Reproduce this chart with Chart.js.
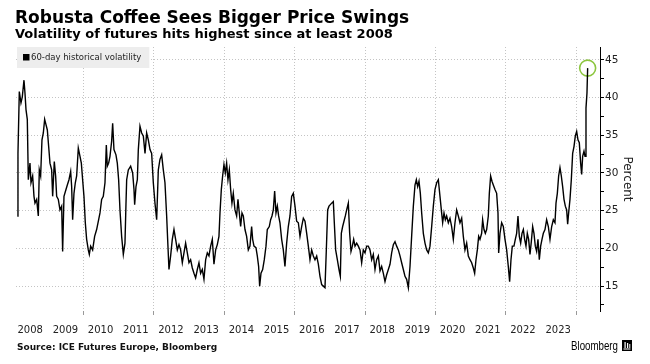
<!DOCTYPE html>
<html>
<head>
<meta charset="utf-8">
<script src="https://cdn.jsdelivr.net/npm/chart.js@4.4.0/dist/chart.umd.min.js"></script>
<style>
  body { margin: 0; background: #fff; }
  canvas { display: block; }
</style>
</head>
<body>
<canvas id="myChart" width="650" height="364"></canvas>
<script>
// decimal years
const dates = [
  2008.134, 2008.153, 2008.191, 2008.238, 2008.276, 2008.324, 2008.352, 2008.381, 2008.418, 2008.447,
  2008.494, 2008.523, 2008.570, 2008.608, 2008.636, 2008.684, 2008.731, 2008.759, 2008.797, 2008.835,
  2008.873, 2008.911, 2008.949, 2008.987, 2009.025, 2009.062, 2009.110, 2009.138, 2009.185, 2009.223,
  2009.252, 2009.299, 2009.346, 2009.394, 2009.422, 2009.460, 2009.517, 2009.555, 2009.602, 2009.650,
  2009.678, 2009.706, 2009.744, 2009.782, 2009.820, 2009.867, 2009.915, 2009.953, 2009.990, 2010.028,
  2010.066, 2010.104, 2010.151, 2010.180, 2010.218, 2010.274, 2010.331, 2010.388, 2010.445, 2010.483,
  2010.530, 2010.577, 2010.625, 2010.663, 2010.691, 2010.729, 2010.767, 2010.814, 2010.843, 2010.880,
  2010.937, 2010.975, 2011.013, 2011.051, 2011.098, 2011.146, 2011.193, 2011.222, 2011.241, 2011.288,
  2011.354, 2011.411, 2011.449, 2011.468, 2011.506, 2011.544, 2011.572, 2011.619, 2011.667, 2011.714,
  2011.762, 2011.809, 2011.856, 2011.904, 2011.951, 2011.998, 2012.045, 2012.093, 2012.140, 2012.187,
  2012.235, 2012.282, 2012.329, 2012.377, 2012.405, 2012.443, 2012.490, 2012.537, 2012.585, 2012.632,
  2012.680, 2012.727, 2012.774, 2012.822, 2012.869, 2012.916, 2012.964, 2013.011, 2013.058, 2013.106,
  2013.153, 2013.200, 2013.248, 2013.295, 2013.342, 2013.390, 2013.437, 2013.485, 2013.532, 2013.579,
  2013.627, 2013.674, 2013.721, 2013.769, 2013.816, 2013.863, 2013.892, 2013.930, 2013.967, 2014.005,
  2014.043, 2014.081, 2014.119, 2014.157, 2014.195, 2014.232, 2014.270, 2014.318, 2014.365, 2014.403,
  2014.441, 2014.479, 2014.517, 2014.555, 2014.602, 2014.649, 2014.697, 2014.744, 2014.791, 2014.820,
  2014.858, 2014.914, 2014.952, 2014.990, 2015.019, 2015.057, 2015.104, 2015.151, 2015.199, 2015.236,
  2015.293, 2015.331, 2015.369, 2015.407, 2015.445, 2015.483, 2015.521, 2015.558, 2015.596, 2015.644,
  2015.691, 2015.738, 2015.786, 2015.833, 2015.880, 2015.928, 2015.975, 2016.023, 2016.070, 2016.118,
  2016.165, 2016.212, 2016.260, 2016.307, 2016.355, 2016.402, 2016.449, 2016.497, 2016.544, 2016.591,
  2016.639, 2016.686, 2016.733, 2016.781, 2016.828, 2016.875, 2016.913, 2016.951, 2016.989, 2017.027,
  2017.065, 2017.112, 2017.140, 2017.178, 2017.226, 2017.273, 2017.311, 2017.339, 2017.377, 2017.415,
  2017.453, 2017.491, 2017.538, 2017.576, 2017.614, 2017.652, 2017.690, 2017.728, 2017.775, 2017.822,
  2017.870, 2017.917, 2017.964, 2018.012, 2018.059, 2018.106, 2018.154, 2018.201, 2018.248, 2018.296,
  2018.343, 2018.391, 2018.438, 2018.485, 2018.533, 2018.580, 2018.627, 2018.675, 2018.722, 2018.769,
  2018.817, 2018.864, 2018.911, 2018.959, 2019.006, 2019.053, 2019.101, 2019.148, 2019.195, 2019.243,
  2019.290, 2019.337, 2019.385, 2019.432, 2019.470, 2019.508, 2019.546, 2019.584, 2019.622, 2019.669,
  2019.716, 2019.764, 2019.811, 2019.858, 2019.906, 2019.953, 2020.000, 2020.048, 2020.095, 2020.142,
  2020.189, 2020.218, 2020.256, 2020.294, 2020.331, 2020.379, 2020.426, 2020.473, 2020.521, 2020.568,
  2020.615, 2020.663, 2020.710, 2020.758, 2020.805, 2020.852, 2020.900, 2020.947, 2020.994, 2021.042,
  2021.089, 2021.127, 2021.165, 2021.203, 2021.241, 2021.278, 2021.326, 2021.354, 2021.392, 2021.430,
  2021.468, 2021.515, 2021.544, 2021.581, 2021.619, 2021.657, 2021.705, 2021.752, 2021.790, 2021.809,
  2021.847, 2021.894, 2021.941, 2021.989, 2022.036, 2022.083, 2022.121, 2022.159, 2022.197, 2022.244,
  2022.282, 2022.320, 2022.358, 2022.396, 2022.434, 2022.472, 2022.510, 2022.547, 2022.585, 2022.623,
  2022.661, 2022.699, 2022.737, 2022.775, 2022.812, 2022.850, 2022.888, 2022.926, 2022.964, 2023.002,
  2023.040, 2023.078, 2023.125, 2023.172, 2023.220, 2023.267, 2023.315, 2023.362, 2023.409, 2023.438,
  2023.476, 2023.513, 2023.551, 2023.589, 2023.627, 2023.665, 2023.703, 2023.741, 2023.769, 2023.797,
  2023.835, 2023.873, 2023.911, 2023.949, 2023.987, 2024.025, 2024.062, 2024.100, 2024.138, 2024.167,
  2024.195, 2024.233, 2024.262, 2024.290, 2024.318, 2024.337
];

// 60-day historical volatility, percent
const vols = [
  24.3, 32.6, 40.8, 39.3, 40.1, 42.3, 40.6, 38.4, 37.1, 29.1,
  31.3, 28.7, 29.6, 26.9, 26.0, 26.5, 24.3, 30.4, 29.6, 34.4,
  35.3, 37.1, 36.4, 35.7, 33.5, 31.3, 30.4, 26.9, 31.5, 29.6,
  26.9, 26.5, 25.1, 25.6, 19.6, 26.9, 27.8, 28.4, 29.1, 30.2,
  28.2, 23.8, 27.3, 28.7, 29.6, 33.3, 32.2, 31.3, 29.1, 26.9,
  23.4, 21.2, 19.8, 19.2, 20.3, 19.8, 21.6, 22.5, 23.8, 24.7,
  26.5, 26.9, 28.7, 33.7, 30.9, 31.3, 32.2, 34.2, 36.6, 33.1,
  32.4, 31.3, 29.1, 25.1, 21.6, 19.2, 20.7, 26.0, 29.1, 30.4,
  30.9, 30.0, 27.8, 25.8, 28.2, 29.1, 33.1, 36.2, 35.3, 34.9,
  32.6, 35.3, 34.4, 33.1, 32.6, 28.7, 26.0, 23.8, 30.4, 31.8,
  32.4, 30.4, 28.7, 24.3, 21.2, 17.2, 19.0, 21.2, 22.5, 21.2,
  19.8, 20.5, 19.8, 18.1, 19.4, 20.7, 19.4, 18.1, 18.5, 17.4,
  16.7, 16.1, 17.2, 18.1, 16.7, 17.2, 15.9, 18.5, 19.4, 19.0,
  20.3, 21.2, 17.9, 19.8, 20.5, 21.6, 24.7, 27.8, 29.6, 31.1,
  30.0, 31.3, 29.1, 30.4, 27.8, 26.0, 27.3, 25.1, 24.3, 26.5,
  24.7, 22.9, 24.7, 24.3, 22.5, 21.6, 19.8, 20.3, 22.9, 21.2,
  20.3, 20.1, 19.0, 17.6, 15.0, 16.7, 17.2, 18.5, 20.3, 22.5,
  22.9, 23.8, 24.3, 25.1, 27.6, 24.7, 25.6, 24.3, 23.4, 21.2,
  19.8, 17.6, 20.7, 22.9, 24.3, 26.9, 27.3, 25.6, 23.6, 23.4,
  21.6, 22.9, 24.0, 23.6, 22.0, 20.3, 18.5, 19.8, 19.0, 18.5,
  19.0, 17.9, 16.3, 15.2, 15.0, 14.8, 19.8, 25.1, 25.6, 25.8,
  26.0, 26.2, 23.4, 19.8, 18.5, 17.2, 16.3, 22.0, 22.9, 23.6,
  24.3, 25.1, 26.0, 22.0, 19.6, 20.3, 21.2, 20.3, 20.7, 20.3,
  19.8, 18.1, 19.8, 19.4, 20.3, 20.3, 19.8, 18.5, 19.2, 17.2,
  18.5, 19.0, 17.0, 17.6, 16.7, 15.6, 16.5, 17.2, 17.9, 19.4,
  20.5, 20.9, 20.3, 19.8, 19.0, 18.1, 17.2, 16.3, 15.9, 14.8,
  17.6, 21.6, 25.6, 28.4, 29.1, 28.2, 28.9, 27.3, 24.7, 22.0,
  20.7, 19.8, 19.4, 20.3, 22.9, 25.6, 27.8, 28.7, 29.1, 26.9,
  24.7, 23.4, 24.7, 23.8, 24.3, 23.4, 24.0, 22.9, 21.2, 23.4,
  25.1, 24.3, 23.4, 24.0, 21.6, 19.8, 20.7, 19.0, 18.5, 18.1,
  17.4, 16.7, 18.5, 19.8, 21.6, 21.2, 22.0, 23.8, 22.5, 22.0,
  22.5, 24.3, 27.3, 29.6, 28.9, 28.4, 27.8, 27.3, 24.7, 19.4,
  22.0, 23.4, 22.9, 21.2, 19.8, 17.6, 15.6, 18.5, 20.3, 20.3,
  21.2, 22.0, 24.3, 21.6, 20.7, 22.0, 22.5, 21.2, 20.3, 22.0,
  21.2, 19.2, 20.9, 22.9, 22.0, 20.3, 19.6, 21.2, 18.5, 20.3,
  21.2, 22.0, 22.5, 23.8, 22.9, 21.2, 22.9, 23.8, 23.4, 26.0,
  27.3, 29.6, 30.7, 29.6, 28.2, 26.5, 25.6, 25.1, 23.2, 24.7,
  26.5, 29.1, 32.6, 33.5, 34.9, 35.5, 34.4, 34.0, 31.3, 29.8,
  32.2, 32.9, 32.2, 38.6, 40.6, 43.9
];

const years = ['2008', '2009', '2010', '2011', '2012', '2013', '2014', '2015',
  '2016', '2017', '2018', '2019', '2020', '2021', '2022', '2023'];
const gridYears = [2010, 2012, 2014, 2016, 2018, 2020, 2022, 2024];
const yTicks = [15, 20, 25, 30, 35, 40, 45];
const yMinorTicks = [12.5, 17.5, 22.5, 27.5, 32.5, 37.5, 42.5];

const points = dates.map((d, i) => ({ x: d, y: vols[i] }));
const last = points[points.length - 1];

const gridGrey = '#c4c4c4';

// dotted year lines every two years, placed with the x scale
const yearGrid = {
    id: 'yearGrid',
    beforeDatasetsDraw(chart) {
        const { ctx, chartArea, scales } = chart;
        ctx.save();
        ctx.lineWidth = 1;
        gridYears.forEach(y => {
            const px = Math.round(scales.x.getPixelForValue(y)) + 0.5;
            ctx.strokeStyle = gridGrey;
            ctx.setLineDash([1, 2]);
            ctx.beginPath();
            ctx.moveTo(px, chartArea.top);
            ctx.lineTo(px, chartArea.bottom);
            ctx.stroke();
            ctx.setLineDash([]);
            ctx.strokeStyle = '#999';
            ctx.beginPath();
            ctx.moveTo(px, chartArea.bottom);
            ctx.lineTo(px, chartArea.bottom + 4);
            ctx.stroke();
        });
        ctx.restore();
    }
};

// texts around the plot
const decorations = {
    id: 'decorations',
    afterDraw(chart) {
        const ctx = chart.ctx;
        const area = chart.chartArea;
        ctx.save();
        ctx.fillStyle = '#000';
        ctx.textBaseline = 'alphabetic';
        ctx.textAlign = 'left';
        ctx.font = 'bold 17px "DejaVu Sans"';
        ctx.fillText('Robusta Coffee Sees Bigger Price Swings', 15, 23);
        ctx.font = 'bold 13px "DejaVu Sans"';
        ctx.fillText('Volatility of futures hits highest since at least 2008', 15, 38);

        // legend box
        const label = chart.data.datasets[0].label;
        ctx.font = '8.5px "DejaVu Sans"';
        const w = ctx.measureText(label).width;
        ctx.fillStyle = '#ededed';
        ctx.fillRect(area.left + 1, area.top, w + 22, 21);
        ctx.fillStyle = '#000';
        ctx.fillRect(area.left + 7, area.top + 7, 6.5, 6.5);
        ctx.fillStyle = '#222';
        ctx.textBaseline = 'middle';
        ctx.fillText(label, area.left + 15, area.top + 10.5);

        // source + logo
        ctx.textBaseline = 'alphabetic';
        ctx.fillStyle = '#111';
        ctx.font = 'bold 9px "DejaVu Sans"';
        ctx.fillText('Source: ICE Futures Europe, Bloomberg', 17, 350);
        ctx.fillStyle = '#000';
        ctx.font = '12.5px "Liberation Sans"';
        ctx.fillText('Bloomberg', 571, 350, 47);
        ctx.fillRect(622, 340, 10, 11);
        ctx.fillStyle = '#fff';
        ctx.fillRect(624.5, 342, 1.2, 6);
        ctx.fillRect(627, 343, 1.2, 5);
        ctx.fillRect(629.3, 344, 1, 4);
        ctx.fillRect(623.5, 348.5, 7, 1);
        ctx.restore();
    }
};

new Chart(document.getElementById('myChart'), {
    type: 'line',
    data: {
        datasets: [
            {
                label: '60-day historical volatility',
                data: points,
                borderColor: '#000',
                borderWidth: 1.4,
                pointRadius: 0,
                tension: 0,
                fill: false
            },
            {
                label: 'latest',
                data: [last],
                showLine: false,
                pointRadius: 8,
                pointBorderWidth: 1.6,
                pointBorderColor: '#8cc63f',
                pointBackgroundColor: 'rgba(0,0,0,0)'
            }
        ]
    },
    options: {
        responsive: false,
        animation: false,
        layout: { padding: { left: 16, top: 47, right: 0, bottom: 0 } },
        plugins: {
            legend: { display: false },
            title: { display: false },
            tooltip: { enabled: false }
        },
        scales: {
            x: {
                type: 'linear',
                min: 2008.097,
                max: 2024.688,
                afterBuildTicks: (scale) => {
                    scale.ticks = years.map(y => ({ value: Number(y) + 0.5 }));
                },
                afterFit: (scale) => { scale.height = 53; },
                grid: { display: false, drawTicks: true, tickLength: 4 },
                border: { display: false },
                ticks: {
                    autoSkip: false,
                    maxRotation: 0,
                    padding: 9,
                    color: '#222',
                    font: { family: 'DejaVu Sans', size: 10 },
                    callback: (v) => String(Math.floor(v))
                }
            },
            y: {
                position: 'right',
                min: 11.7,
                max: 46.7,
                afterBuildTicks: (scale) => {
                    scale.ticks = yTicks.concat(yMinorTicks).sort((a, b) => a - b).map(v => ({ value: v }));
                },
                afterFit: (scale) => { scale.width = 50; },
                grid: {
                    color: (c) => (c.tick && yTicks.includes(c.tick.value)) ? gridGrey : 'rgba(0,0,0,0)',
                    tickColor: '#000',
                    tickLength: 4,
                    lineWidth: 1
                },
                border: { display: true, color: '#000', width: 1, dash: [1, 2] },
                ticks: {
                    padding: 1,
                    color: '#222',
                    font: { family: 'DejaVu Sans', size: 10.5 },
                    callback: (v) => yTicks.includes(v) ? String(v) : ''
                },
                title: {
                    display: true,
                    text: 'Percent',
                    color: '#222',
                    font: { family: 'DejaVu Sans', size: 12 },
                    padding: { top: 16, bottom: 0 }
                }
            }
        }
    },
    plugins: [yearGrid, decorations]
});
</script>
</body>
</html>
